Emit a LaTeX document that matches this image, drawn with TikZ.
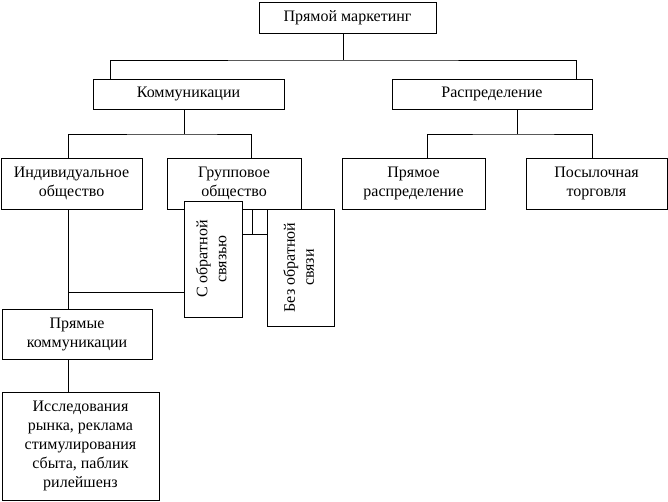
\documentclass[tikz,border=0pt]{standalone}
\usepackage{fontspec}
\usepackage{graphicx}
\setmainfont{Liberation Serif}

\tikzset{
  wh/.style 2 args={minimum width=#1pt,minimum height=#2pt}
}

\begin{document}
\begin{tikzpicture}
  [x=1pt,y=-1pt,line width=.9pt,
   every node/.style={draw,fill=white,align=center,inner sep=0pt,
     line width=.9pt,font=\fontsize{16}{19}\selectfont}]

  \useasboundingbox (0,0) rectangle (668,501);

  \node[wh={177}{31}] (top) at (347.5,17.5) {Прямой маркетинг};

  \node[wh={191}{30}] (komm) at (188.5,94) {Коммуникации};
  \node[wh={200}{30}] (raspr) at (492,94) {Распределение};

  \node[wh={141}{51}] (ind) at (71.5,183.5) {Индивидуальное\\общество};
  \node[wh={134}{51}] (grp) at (234,183.5) {Групповое\\общество};
  \node[wh={143}{51}] (pr) at (413.5,183.5) {Прямое\\распределение};
  \node[wh={141}{51}] (pos) at (596.5,183.5) {Посылочная\\торговля};

  \node[wh={58}{116}] (sobr) at (213,259)
    {\rotatebox{90}{\begin{tabular}{@{}c@{}}С обратной\\связью\end{tabular}}};
  \node[wh={67}{117}] (bez) at (300.5,267.5)
    {\rotatebox{90}{\begin{tabular}{@{}c@{}}Без обратной\\связи\end{tabular}}};

  \node[wh={150}{50}] (pk) at (77,334) {Прямые\\коммуникации};
  \node[wh={157}{108}] (issl) at (80.5,446)
    {Исследования\\рынка, реклама\\стимулирования\\сбыта, паблик\\рилейшенз};

  % bus lines
  \coordinate (b1) at (343,60);
  \coordinate (b2) at (184,134);
  \coordinate (b3) at (517,134);
  \coordinate (b4) at (252,234);
  \coordinate (b5) at (68,292);

  \draw (top.south -| b1) -- (b1);
  \draw (komm.north -| 110,0) |- (b1) -| (raspr.north -| 576,0);

  \draw (komm.south -| b2) -- (b2);
  \draw (ind.north -| b5) |- (b2) -| (grp.north -| 251,0);

  \draw (raspr.south -| b3) -- (b3);
  \draw (pr.north -| 427,0) |- (b3) -| (pos.north -| 592,0);

  \draw (grp.south -| b4) -- (b4);
  \draw (sobr.east |- b4) -- (bez.west |- b4);

  \draw (ind.south -| b5) -- (pk.north -| b5);
  \draw (b5) -- (sobr.west |- b5);
  \draw (pk.south -| b5) -- (issl.north -| b5);

\end{tikzpicture}
\end{document}
